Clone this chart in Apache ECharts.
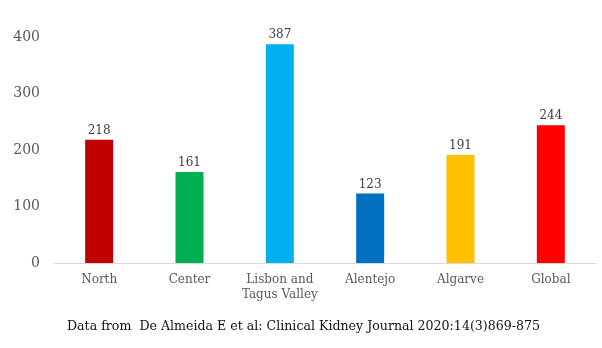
<!DOCTYPE html>
<html><head><meta charset="utf-8">
<script src="https://cdn.jsdelivr.net/npm/echarts@6/dist/echarts.min.js"></script>
<style>html,body{margin:0;padding:0;background:#fff}#c{width:602px;height:348px}</style>
</head><body><div id="c"></div>
<script>
const categories = ["North", "Center", "Lisbon and\nTagus Valley", "Alentejo", "Algarve", "Global"];
const values = [218, 161, 387, 123, 191, 244];
const barColors = ["#C00000", "#00B050", "#00B0F0", "#0070C0", "#FFC000", "#FF0000"];
const yTicks = [0, 100, 200, 300, 400];
const footnote = "Data from  De Almeida E et al: Clinical Kidney Journal 2020:14(3)869-875";

const font = "DejaVu Serif";
const chart = echarts.init(document.getElementById('c'), null, {renderer: 'canvas'});
chart.setOption({
  animation: false,
  grid: {left: 54, right: 6, top: 37, bottom: 85},
  graphic: [{type: 'text', left: 67, top: 320, style: {text: footnote, font: '12.6px "DejaVu Serif"', fill: '#111111'}}],
  xAxis: {
    type: 'category', data: categories,
    axisLine: {lineStyle: {color: '#d9d9d9', width: 1}},
    axisTick: {show: false},
    axisLabel: {color: '#595959', fontFamily: font, fontSize: 12, margin: 9, lineHeight: 15, interval: 0}
  },
  yAxis: {
    type: 'value', min: yTicks[0], max: yTicks[yTicks.length - 1], interval: 100,
    splitLine: {show: false}, axisLine: {show: false}, axisTick: {show: false},
    axisLabel: {color: '#595959', fontFamily: font, fontSize: 14, margin: 14}
  },
  series: [{
    type: 'bar', barWidth: 28,
    data: values.map((v, i) => ({value: v, itemStyle: {color: barColors[i]}})),
    label: {show: true, position: 'top', color: '#404040', fontFamily: font, fontSize: 12, distance: 3}
  }]
});
</script></body></html>
